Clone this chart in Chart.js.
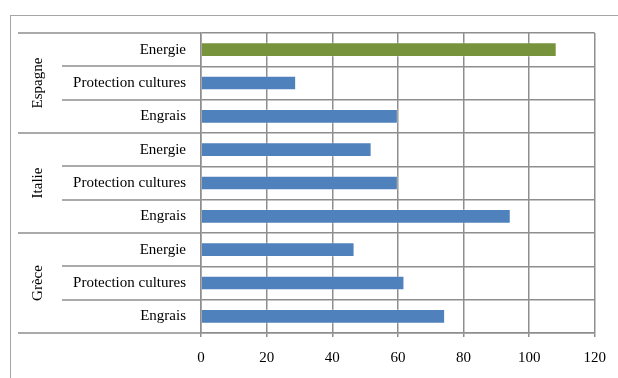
<!DOCTYPE html>
<html>
<head>
<meta charset="utf-8">
<script src="https://cdn.jsdelivr.net/npm/chart.js@4"></script>
<style>
  html, body { margin: 0; padding: 0; background: #fff; overflow: hidden; }
  #frame { position: absolute; left: 10px; top: 15px; width: 700px; height: 500px; border: 1.5px solid #a6a6a6; }
  #wrap { position: absolute; left: 0; top: 0; width: 618px; height: 378px; }
</style>
</head>
<body>
<div id="frame"></div>
<div id="wrap"><canvas id="barChart"></canvas></div>
<script>
var groups = ['Espagne', 'Italie', 'Grèce'];
var subLabels = ['Energie', 'Protection cultures', 'Engrais',
                 'Energie', 'Protection cultures', 'Engrais',
                 'Energie', 'Protection cultures', 'Engrais'];
var values = [108.4, 29, 60, 52, 60, 94.4, 46.8, 62, 74.4];
var barColors = ['#77933c', '#4f81bd', '#4f81bd', '#4f81bd', '#4f81bd', '#4f81bd', '#4f81bd', '#4f81bd', '#4f81bd'];
var xTicks = [0, 20, 40, 60, 80, 100, 120];

var serif = '"Liberation Serif", "DejaVu Serif", serif';
var gridColor = '#8e8e8e';

// lignes de gauche + noms des pays
var groupPlugin = {
  id: 'groupPlugin',
  afterDraw: function (chart) {
    var ctx = chart.ctx;
    var y = chart.scales.y;
    var left = chart.chartArea.left;
    ctx.save();
    ctx.strokeStyle = gridColor;
    ctx.lineWidth = 1.5;
    for (var i = 0; i <= subLabels.length; i++) {
      var py = Math.round(y.getPixelForValue(i - 0.5));
      var startX = (i % 3 === 0) ? 18 : 62;
      ctx.beginPath();
      ctx.moveTo(startX, py);
      ctx.lineTo(left, py);
      ctx.stroke();
    }
    ctx.fillStyle = '#000';
    ctx.font = '15px ' + serif;
    ctx.textAlign = 'center';
    ctx.textBaseline = 'middle';
    for (var g = 0; g < groups.length; g++) {
      var yc = (y.getPixelForValue(g * 3 - 0.5) + y.getPixelForValue(g * 3 + 2.5)) / 2;
      ctx.save();
      ctx.translate(38, yc);
      ctx.rotate(-Math.PI / 2);
      ctx.fillText(groups[g], 0, 0);
      ctx.restore();
    }
    ctx.restore();
  }
};

document.addEventListener('DOMContentLoaded', function () {
  var ctx = document.getElementById('barChart').getContext('2d');
  var data = {
    labels: subLabels,
    datasets: [{
      data: values,
      backgroundColor: barColors,
      borderColor: 'rgba(255,255,255,0.25)',
      borderWidth: 1,
      barPercentage: 0.44,
      categoryPercentage: 1
    }]
  };
  new Chart(ctx, {
    type: 'bar',
    data: data,
    plugins: [groupPlugin],
    options: {
      indexAxis: 'y',
      responsive: true,
      maintainAspectRatio: false,
      animation: false,
      layout: { padding: { top: 33, right: 23, left: 0, bottom: 0 } },
      plugins: { legend: { display: false }, tooltip: { enabled: false } },
      scales: {
        x: {
          min: 0,
          max: 120,
          afterBuildTicks: function (axis) {
            axis.ticks = xTicks.map(function (v) { return { value: v }; });
          },
          afterFit: function (axis) { axis.height = 45; },
          grid: { color: gridColor, lineWidth: 1.5, tickLength: 4 },
          border: { color: gridColor, width: 1.5 },
          ticks: { color: '#000', padding: 12, font: { family: serif, size: 15 } }
        },
        y: {
          afterFit: function (axis) { axis.width = 201; },
          grid: { color: gridColor, lineWidth: 1.5, offset: true, drawTicks: false },
          border: { color: gridColor, width: 1.5 },
          ticks: { color: '#000', padding: 15, font: { family: serif, size: 15 } }
        }
      }
    }
  });
});
</script>
</body>
</html>
